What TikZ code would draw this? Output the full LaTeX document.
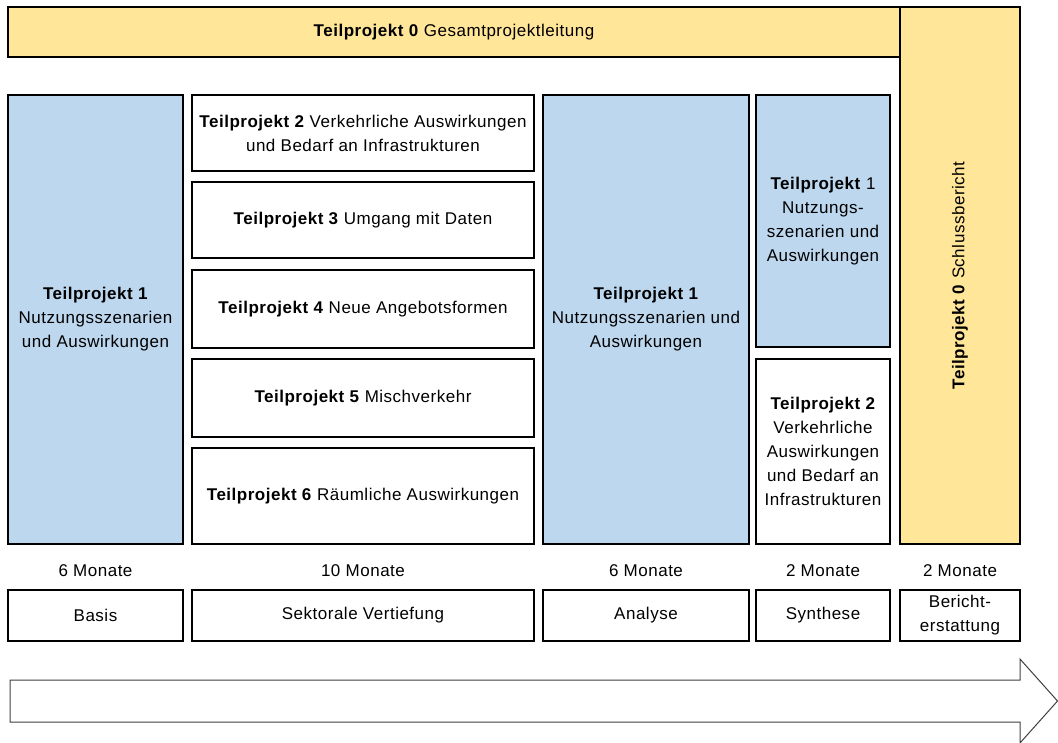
\documentclass[tikz,border=0pt]{standalone}
\usepackage{fontspec}
\setmainfont[LetterSpace=3]{Liberation Sans}
\usepackage{tikz}
\newcommand \tp [1] {\textbf{Teilprojekt #1}}
\definecolor{tpyellow}{HTML}{FFE699}
\definecolor{tpblue}{HTML}{BDD7EE}
\tikzstyle{box}=[rectangle,draw=black,line width=1.5pt,inner sep=0mm,align=center]
\tikzstyle{lead}=[box,fill=tpyellow]
\tikzstyle{core}=[box,fill=tpblue]
\tikzstyle{sub}=[box,fill=white]
\tikzstyle{phase}=[box,fill=white,minimum height=51pt]
\tikzstyle{dauer}=[inner sep=0mm]
\tikzstyle{zeit}=[draw=black!75,line width=1pt,fill=white]
\tikzset{every picture/.style={
    x=1pt,y=-1pt,
    font=\fontsize{17}{24}\selectfont
  }
}

\begin{document}
\begin{tikzpicture}
          \useasboundingbox (0,0) rectangle (1058,742);
          \node[lead, minimum width=892pt, minimum height=50pt] at (454,32) (tp0) {\tp{0} Gesamtprojektleitung};
          \node[lead, rotate=90, minimum width=537pt, minimum height=120pt] at (960,275.5) (bericht0) {\tp{0} Schlussbericht};
          \node[core, minimum width=175pt, minimum height=449pt] at (95.5,319.5) (tp1) {\tp{1}\\Nutzungsszenarien\\und Auswirkungen};
          \node[sub, minimum width=342pt, minimum height=76pt] at (363,133) (tp2) {\tp{2} Verkehrliche Auswirkungen\\und Bedarf an Infrastrukturen};
          \node[sub, minimum width=342pt, minimum height=76pt] at (363,220) (tp3) {\tp{3} Umgang mit Daten};
          \node[sub, minimum width=342pt, minimum height=78pt] at (363,309) (tp4) {\tp{4} Neue Angebotsformen};
          \node[sub, minimum width=342pt, minimum height=78pt] at (363,398) (tp5) {\tp{5} Mischverkehr};
          \node[sub, minimum width=342pt, minimum height=96pt] at (363,496) (tp6) {\tp{6} Räumliche Auswirkungen};
          \node[core, minimum width=206pt, minimum height=449pt] at (646,319.5) (tp1b) {\tp{1}\\Nutzungsszenarien und\\Auswirkungen};
          \node[core, minimum width=134pt, minimum height=252pt] at (823,221) (tp1c) {\textbf{Teilprojekt} 1\\Nutzungs-\\szenarien und\\Auswirkungen};
          \node[sub, minimum width=134pt, minimum height=185pt] at (823,451.5) (tp2c) {\tp{2}\\Verkehrliche\\Auswirkungen\\und Bedarf an\\Infrastrukturen};
          \node[dauer] at (95.5,571) (d1) {6 Monate};
          \node[dauer] at (363,571) (d2) {10 Monate};
          \node[dauer] at (646,571) (d3) {6 Monate};
          \node[dauer] at (823,571) (d4) {2 Monate};
          \node[dauer] at (960,571) (d5) {2 Monate};
          \node[phase, minimum width=175pt] at (95.5,615.5) (basis) {Basis};
          \node[phase, minimum width=342pt] at (363,615.5) (vertiefung) {Sektorale Vertiefung};
          \node[phase, minimum width=206pt] at (646,615.5) (analyse) {Analyse};
          \node[phase, minimum width=134pt] at (823,615.5) (synthese) {Synthese};
          \node[phase, minimum width=120pt] at (960,615.5) (erstattung) {Bericht-\\erstattung};
          % Zeitachse
          \draw[zeit] (10,680) -- (1020,680) -- (1020,659) -- (1057.5,701) -- (1020,743) -- (1020,722) -- (10,722) -- cycle;
        \end{tikzpicture}
\end{document}
